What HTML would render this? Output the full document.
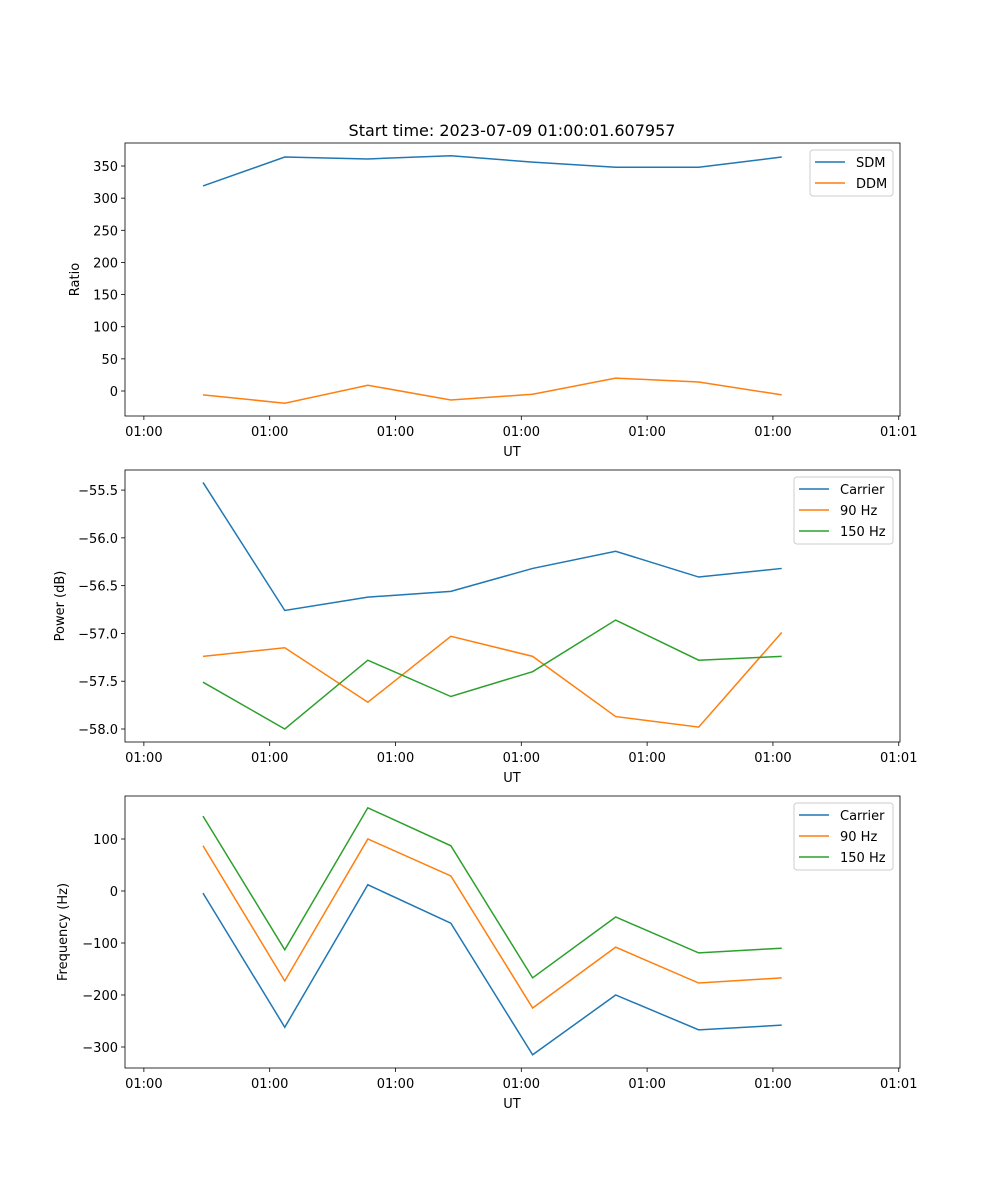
<!DOCTYPE html>
<html><head><meta charset="utf-8"><style>
body{margin:0;background:#fff}
svg{display:block;font-family:"DejaVu Sans","Liberation Sans",sans-serif}
</style></head><body>
<svg id="fig" width="1000" height="1200" xmlns="http://www.w3.org/2000/svg">
<rect width="1000" height="1200" fill="#fff"/>
<text x="512" y="136" font-size="16" text-anchor="middle">Start time: 2023-07-09 01:00:01.607957</text>
</svg>
<script>
const times = [4.7, 11.2, 17.8, 24.4, 30.9, 37.5, 44.1, 50.7];
const xTickVals = [0, 10, 20, 30, 40, 50, 60];
const xTickLabels = ["01:00","01:00","01:00","01:00","01:00","01:00","01:01"];
const sdm = [319, 364, 361, 366, 356, 348, 348, 364];
const ddm = [-6, -19, 9, -14, -5, 20, 14, -6];
const powCarrier = [-55.42, -56.76, -56.62, -56.56, -56.32, -56.14, -56.41, -56.32];
const pow90 = [-57.24, -57.15, -57.72, -57.03, -57.24, -57.87, -57.98, -56.99];
const pow150 = [-57.51, -58.0, -57.28, -57.66, -57.40, -56.86, -57.28, -57.24];
const freqCarrier = [-4, -262, 12, -62, -315, -200, -267, -258];
const freq90 = [87, -173, 100, 29, -225, -108, -177, -167];
const freq150 = [144, -113, 160, 87, -167, -50, -119, -110];
const ratioTicks = [0, 50, 100, 150, 200, 250, 300, 350];
const powTicks = [-58.0, -57.5, -57.0, -56.5, -56.0, -55.5];
const freqTicks = [-300, -200, -100, 0, 100];

const svg = document.getElementById('fig');
const NS = 'http://www.w3.org/2000/svg';
function mk(tag, attrs, parent) {
  const e = document.createElementNS(NS, tag);
  for (const k in attrs) e.setAttribute(k, attrs[k]);
  (parent || svg).appendChild(e);
  return e;
}
const X0 = 125, X1 = 900, XMIN = -1.5, XMAX = 60.1;
const xs = v => X0 + (v - XMIN) / (XMAX - XMIN) * (X1 - X0);

function panel(name, top, bot, ymin, ymax, ticks, fmt, ylabel, series, legend) {
  const g = mk('g', {});
  
  
  const ys = v => bot - (v - ymin) / (ymax - ymin) * (bot - top);
  // x ticks
  xTickVals.forEach((t, i) => {
    const x = xs(t);
    const l = mk('line', {x1: x, x2: x, y1: bot, y2: bot + 4, stroke: '#000', 'stroke-width': 0.8}, g);
    
    
    const tx = mk('text', {x: x, y: bot + 20, 'font-size': 13, 'text-anchor': 'middle'}, g);
    
    
    tx.textContent = xTickLabels[i];
  });
  ticks.forEach(t => {
    const y = ys(t);
    const l = mk('line', {x1: X0 - 4, x2: X0, y1: y, y2: y, stroke: '#000', 'stroke-width': 0.8}, g);
    
    
    const tx = mk('text', {x: X0 - 7, y: y + 5, 'font-size': 13, 'text-anchor': 'end'}, g);
    
    
    tx.textContent = fmt(t);
  });
  const xl = mk('text', {x: 512, y: bot + 40, 'font-size': 13, 'text-anchor': 'middle'}, g);
  
  
  xl.textContent = 'UT';
  const cy = (top + bot) / 2;
  const yl = mk('text', {x: 0, y: 0, 'font-size': 13, 'text-anchor': 'middle', transform: `translate(${ylabel[1]},${cy}) rotate(-90)`}, g);
  
  
  yl.textContent = ylabel[0];
  series.forEach(s => {
    const p = mk('polyline', {points: s.data.map((v, i) => xs(times[i]) + ',' + ys(v)).join(' '), fill: 'none', stroke: s.color, 'stroke-width': 1.5}, g);
    
    
  });
  const fr = mk('rect', {x: X0, y: top, width: X1 - X0, height: bot - top, fill: 'none', stroke: '#000', 'stroke-width': 0.8}, g);
  
  
  const lg = mk('g', {}, g);
  
  
  mk('rect', {x: legend.x, y: top + 7, width: X1 - 7 - legend.x, height: series.length * 21 + 4, rx: 3, fill: '#fff', stroke: '#ccc'}, lg);
  series.forEach((s, i) => {
    const y = top + 19 + i * 21;
    const l = mk('line', {x1: legend.x + 5, x2: legend.x + 35, y1: y, y2: y, stroke: s.color, 'stroke-width': 1.5}, lg);
    
    
    const t = mk('text', {x: legend.x + 46, y: y + 5, 'font-size': 13}, lg);
    
    
    t.textContent = s.label;
  });
}
const C1 = '#1f77b4', C2 = '#ff7f0e', C3 = '#2ca02c';
panel('ratio-panel', 143, 416, -38.9, 385.8, ratioTicks, v => String(v), ['Ratio', 79],
  [{key: 'sdm', label: 'SDM', data: sdm, color: C1}, {key: 'ddm', label: 'DDM', data: ddm, color: C2}], {x: 810});
panel('power-panel', 470, 742, -58.136, -55.29, powTicks, v => '\u2212' + Math.abs(v).toFixed(1), ['Power (dB)', 64],
  [{key: 'carrier', label: 'Carrier', data: powCarrier, color: C1}, {key: '90hz', label: '90 Hz', data: pow90, color: C2}, {key: '150hz', label: '150 Hz', data: pow150, color: C3}], {x: 794});
panel('frequency-panel', 796, 1068, -340.4, 182.7, freqTicks, v => (v < 0 ? '\u2212' : '') + Math.abs(v), ['Frequency (Hz)', 67],
  [{key: 'carrier', label: 'Carrier', data: freqCarrier, color: C1}, {key: '90hz', label: '90 Hz', data: freq90, color: C2}, {key: '150hz', label: '150 Hz', data: freq150, color: C3}], {x: 794});
</script>
</body></html>
